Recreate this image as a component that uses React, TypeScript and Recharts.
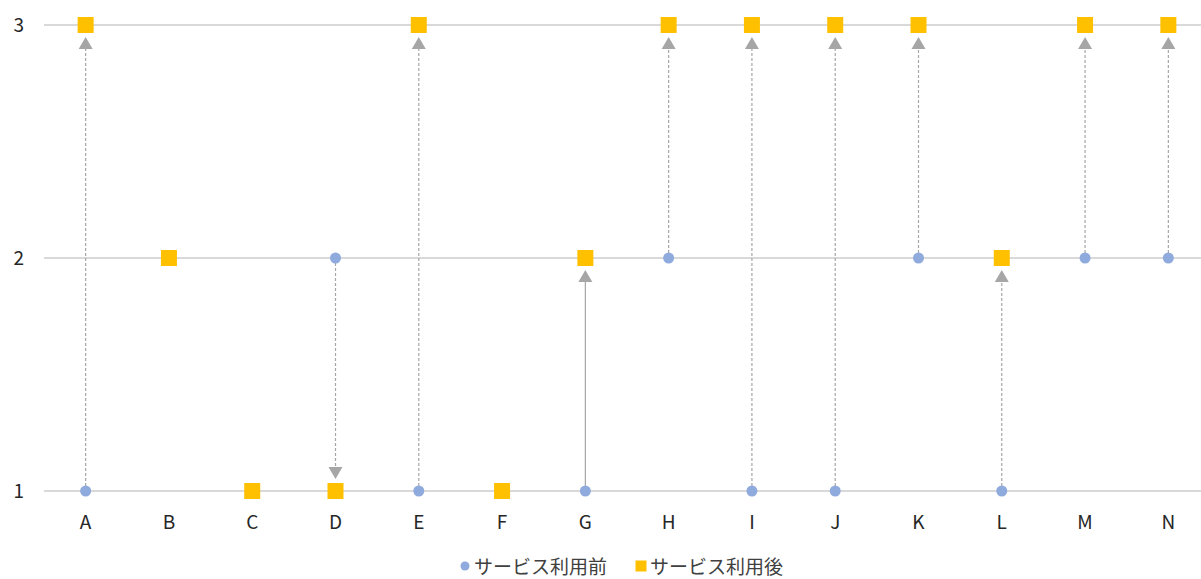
import React from "react";
import {
  ComposedChart,
  Scatter,
  XAxis,
  YAxis,
  CartesianGrid,
  ReferenceLine,
  Legend,
} from "recharts";

const categories = ["A", "B", "C", "D", "E", "F", "G", "H", "I", "J", "K", "L", "M", "N"];
const beforeValues = [1, 2, 1, 2, 1, 1, 1, 2, 1, 1, 2, 1, 2, 2];
const afterValues = [3, 2, 1, 1, 3, 1, 2, 3, 3, 3, 3, 2, 3, 3];
const solidArrows = ["G"];
const yTicks = [1, 2, 3];

const BEFORE_NAME = "サービス利用前";
const AFTER_NAME = "サービス利用後";
const BLUE = "#8faadc";
const GOLD = "#ffc000";
const GREY = "#a6a6a6";
const FONT = "'Noto Sans CJK JP', 'Noto Sans', sans-serif";

const rows = categories.map((c, i) => ({ cat: c, before: beforeValues[i], after: afterValues[i] }));

const Dot = (props: any) => {
  const { cx, cy } = props;
  if (cx == null || cy == null) return <g />;
  return <circle cx={cx} cy={cy} r={5.5} fill={BLUE} />;
};

const Square = (props: any) => {
  const { cx, cy } = props;
  if (cx == null || cy == null) return <g />;
  return <rect x={cx - 8} y={cy - 8} width={16} height={16} fill={GOLD} />;
};

// dashed (or solid) grey line with a triangle head stopping just short of the square
const makeArrow = (dashed: boolean) => (props: any) => {
  const { x1, y1, x2, y2 } = props;
  if ([x1, y1, x2, y2].some((v) => v == null || isNaN(v))) return <g />;
  const dir = y2 > y1 ? 1 : -1;
  const tip = y2 - dir * 12;
  const base = tip - dir * 12;
  return (
    <g>
      <line
        x1={x1}
        y1={y1}
        x2={x2}
        y2={base}
        stroke={GREY}
        strokeWidth={1.2}
        strokeDasharray={dashed ? "3 2" : undefined}
      />
      <polygon points={`${x2 - 7},${base} ${x2 + 7},${base} ${x2},${tip}`} fill={GREY} />
    </g>
  );
};

const LegendContent = (props: any) => {
  const items = props.payload || [];
  return (
    <div
      style={{
        display: "flex",
        justifyContent: "center",
        paddingTop: 15,
        paddingLeft: 32,
        fontFamily: FONT,
        fontSize: 19,
        lineHeight: "20px",
        color: "#404040",
      }}
    >
      {items.map((it: any) => (
        <div key={it.value} style={{ display: "flex", alignItems: "center", margin: "0 14px" }}>
          <svg width={12} height={12} style={{ marginRight: 3 }}>
            {it.value === BEFORE_NAME ? (
              <circle cx={6} cy={6} r={4.5} fill={BLUE} />
            ) : (
              <rect x={0.5} y={0.5} width={11} height={11} fill={GOLD} />
            )}
          </svg>
          <div style={{ height: 20, whiteSpace: "nowrap" }}>{it.value}</div>
        </div>
      ))}
    </div>
  );
};

const App: React.FC = () => {
  return (
    <div style={{ position: "fixed", left: 0, top: 0, width: 1201, height: 579, overflow: "hidden", background: "#fff" }}>
      <ComposedChart width={1210} height={579} data={rows} margin={{ top: 25, right: 0, left: 0, bottom: 0 }}>
        <CartesianGrid vertical={false} stroke="#d9d9d9" strokeWidth={2} />
        <XAxis
          dataKey="cat"
          axisLine={false}
          tickLine={false}
          tickSize={0}
          tickMargin={25}
          height={50}
          interval={0}
          padding={{ left: 41.65, right: 41.65 }}
          tick={{ fill: "#262626", fontSize: 19, fontFamily: FONT }}
        />
        <YAxis
          type="number"
          domain={[1, 3]}
          ticks={yTicks}
          width={44}
          axisLine={false}
          tickLine={false}
          tickSize={0}
          tickMargin={20}
          tick={{ fill: "#262626", fontSize: 19, fontFamily: FONT }}
        />
        {rows
          .filter((r) => r.before !== r.after)
          .map((r) => (
            <ReferenceLine
              key={r.cat}
              segment={[
                { x: r.cat, y: r.before },
                { x: r.cat, y: r.after },
              ]}
              shape={makeArrow(!solidArrows.includes(r.cat))}
            />
          ))}
        <Scatter name={BEFORE_NAME} dataKey="before" fill={BLUE} shape={<Dot />} isAnimationActive={false} />
        <Scatter name={AFTER_NAME} dataKey="after" fill={GOLD} shape={<Square />} isAnimationActive={false} />
        <Legend verticalAlign="bottom" height={38} content={<LegendContent />} />
      </ComposedChart>
    </div>
  );
};

export default App;
